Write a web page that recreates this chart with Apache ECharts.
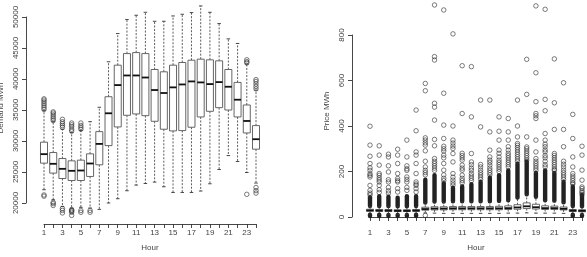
<!DOCTYPE html>
<html>
<head>
<meta charset="utf-8">
<script src="https://cdn.jsdelivr.net/npm/echarts@6/dist/echarts.min.js"></script>
<style>
  html, body { margin: 0; padding: 0; background: #fff; }
  #main { width: 587px; height: 257px; }
</style>
</head>
<body>
<div id="main"></div>
<script>
// hours on the x axis, only odd ones get a label (like R does)
var hours = [1, 2, 3, 4, 5, 6, 7, 8, 9, 10, 11, 12, 13, 14, 15, 16, 17, 18, 19, 20, 21, 22, 23, 24];
var hourLabels = ['1', '3', '5', '7', '9', '11', '13', '15', '17', '19', '21', '23'];
var demandTicks = [20000, 25000, 30000, 35000, 40000, 45000, 50000];
var priceTicks = [0, 200, 400, 600, 800];

// demand boxplot stats per hour
var demandLow = [22140, 20530, 19450, 19190, 19300, 19190, 18970, 20000, 20690, 21980, 22890, 23150, 23370, 22620, 21700, 21700, 21700, 21930, 23100, 25400, 27650, 26690, 24920, 23220];
var demandQ1 = [26430, 24820, 23950, 23630, 23630, 24280, 26160, 29260, 32270, 34150, 34360, 34090, 33180, 31900, 31630, 31680, 32220, 33880, 34790, 35380, 35000, 33880, 31300, 28680];
var demandMed = [27880, 26320, 25510, 25190, 25240, 26370, 29530, 34470, 39020, 40570, 40570, 40240, 38220, 37740, 38650, 39120, 39610, 39450, 39180, 39500, 38750, 36660, 33230, 30290];
var demandQ3 = [29810, 28140, 27170, 26800, 26910, 27930, 31510, 37140, 42230, 44100, 44260, 44100, 41530, 41160, 42230, 42660, 43030, 43200, 43090, 42930, 41530, 39450, 35810, 32480];
var demandHigh = [34900, 33120, 31900, 31350, 31700, 33120, 35440, 42780, 47330, 49590, 50280, 50760, 49310, 49310, 50170, 50440, 50710, 51780, 50760, 48940, 46470, 45730, 42400, 38220];
var demandOutliers = [
  [35100, 35400, 35700, 36000, 36300, 36600, 36800, 21100, 21300],
  [33300, 33600, 33900, 34200, 34500, 34700, 20100, 19900, 19600],
  [32200, 32500, 32800, 33100, 33500, 19100, 18800, 18400],
  [31600, 31900, 32300, 32600, 32900, 18900, 18800, 18700, 18500, 18000],
  [31900, 32200, 32500, 32900, 18800, 18500],
  [18800, 18500],
  [], [], [], [], [], [], [], [], [], [], [], [], [], [], [], [],
  [42600, 42800, 43100, 21400],
  [38400, 38800, 39200, 39600, 39900, 22500, 22000, 21600]
];

// price boxplot stats per hour
var priceLow = [12, 12, 11, 11, 11, 12, 18, 17, 16, 16, 16, 16, 16, 16, 16, 17, 17, 18, 17, 17, 17, 16, 12, 11];
var priceQ1 = [25, 25, 24, 24, 24, 25, 30, 31, 31, 32, 32, 32, 32, 32, 32, 33, 34, 37, 35, 33, 33, 31, 24, 23];
var priceMed = [29, 28, 28, 27, 27, 28, 35, 37, 37, 38, 38, 38, 38, 38, 38, 39, 42, 47, 43, 39, 39, 36, 28, 27];
var priceQ3 = [34, 33, 33, 32, 32, 33, 43, 45, 45, 46, 46, 46, 46, 46, 47, 49, 54, 62, 56, 49, 48, 44, 33, 32];
var priceHigh = [47, 46, 46, 45, 45, 46, 62, 66, 66, 67, 67, 67, 67, 67, 69, 72, 84, 98, 87, 72, 70, 63, 46, 45];
// solid runs of overlapping outlier circles: [hour, from, to]
var priceDense = [
  [1, 48, 88], [2, 47, 92], [3, 47, 90], [4, 46, 86], [5, 46, 92], [6, 47, 92],
  [7, 63, 165], [8, 67, 185], [9, 67, 150], [10, 68, 130], [11, 68, 135], [12, 68, 145],
  [13, 68, 155], [14, 68, 175], [15, 70, 185], [16, 73, 205], [17, 85, 235], [18, 99, 245],
  [19, 88, 195], [20, 73, 205], [21, 71, 195], [22, 64, 155], [23, 47, 135], [24, 46, 98],
  [1, 3, 11], [2, 3, 11], [3, 3, 10], [4, 3, 10], [5, 3, 10], [6, 3, 11], [23, 4, 11], [24, 4, 10]
];
var priceOutliers = [
  [399, 316, 267, 235, 216, 205, 190, 183, 176, 139, 117, 105, 97],
  [313, 272, 228, 191, 183, 172, 163, 154, 139, 120, 108],
  [276, 264, 225, 198, 164, 154, 130, 115, 105],
  [298, 272, 235, 191, 169, 160, 154, 125, 110],
  [338, 264, 225, 212, 205, 176, 165, 154, 130, 117],
  [470, 379, 286, 272, 235, 191, 154, 145, 139, 125, 110],
  [587, 555, 348, 338, 326, 316, 291, 245, 220, 205, 195, 185, 7],
  [932, 705, 690, 500, 483, 426, 341, 313, 257, 245, 235, 225, 215, 205],
  [910, 544, 404, 345, 311, 300, 290, 272, 260, 235, 206, 185, 170, 160],
  [805, 400, 338, 325, 312, 301, 279, 242, 191, 175, 162, 150, 140],
  [665, 455, 280, 270, 260, 250, 228, 215, 206, 184, 170, 160, 150],
  [661, 440, 279, 242, 230, 215, 205, 191, 180, 170, 160],
  [514, 396, 231, 220, 206, 195, 185, 175, 165],
  [514, 374, 294, 264, 250, 240, 228, 215, 205, 195, 185],
  [440, 377, 338, 294, 280, 264, 250, 240, 230, 220, 210, 200],
  [433, 374, 338, 309, 294, 280, 270, 260, 250, 240, 230, 220],
  [514, 400, 352, 323, 315, 305, 295, 285, 275, 265, 255, 245],
  [693, 539, 352, 308, 300, 290, 280, 270, 260, 250],
  [928, 634, 507, 455, 445, 433, 338, 286, 257, 245, 235, 225, 215, 205],
  [913, 517, 467, 367, 338, 320, 309, 295, 286, 270, 260, 245, 230, 220],
  [695, 502, 385, 279, 270, 260, 250, 240, 230, 220, 210, 205],
  [590, 385, 309, 245, 232, 220, 206, 195, 185, 175, 165],
  [451, 345, 264, 220, 191, 180, 170, 160, 150, 145],
  [311, 272, 206, 162, 132, 125, 115, 108, 100]
];

var textColor = '#444';
var lineColor = '#333';

function boxRows(lo, q1, med, q3, hi) {
  return hours.map(function (h, i) {
    return [h, lo[i], q1[i], med[i], q3[i], hi[i]];
  });
}

function outlierRows(list) {
  var out = [];
  list.forEach(function (vals, i) {
    vals.forEach(function (v) { out.push([hours[i], v]); });
  });
  return out;
}

// R style box: dashed whiskers, short staples, thick median
function renderBox(params, api) {
  var x = api.value(0);
  var half = api.size([1, 0])[0] * 0.38;
  var pLo = api.coord([x, api.value(1)]);
  var pQ1 = api.coord([x, api.value(2)]);
  var pMed = api.coord([x, api.value(3)]);
  var pQ3 = api.coord([x, api.value(4)]);
  var pHi = api.coord([x, api.value(5)]);
  var cx = pMed[0];
  var dash = { stroke: lineColor, lineWidth: 0.8, lineDash: [2, 1.5] };
  var solid = { stroke: lineColor, lineWidth: 0.9 };
  return {
    type: 'group',
    children: [
      { type: 'line', shape: { x1: cx, y1: pQ3[1], x2: cx, y2: pHi[1] }, style: dash },
      { type: 'line', shape: { x1: cx, y1: pQ1[1], x2: cx, y2: pLo[1] }, style: dash },
      { type: 'line', shape: { x1: cx - half / 2, y1: pHi[1], x2: cx + half / 2, y2: pHi[1] }, style: solid },
      { type: 'line', shape: { x1: cx - half / 2, y1: pLo[1], x2: cx + half / 2, y2: pLo[1] }, style: solid },
      { type: 'rect', shape: { x: cx - half, y: pQ3[1], width: half * 2, height: pQ1[1] - pQ3[1] },
        style: { fill: '#fff', stroke: '#555', lineWidth: 0.9 } },
      { type: 'line', shape: { x1: cx - half, y1: pMed[1], x2: cx + half, y2: pMed[1] },
        style: { stroke: '#111', lineWidth: 1.8 } }
    ]
  };
}

function renderDense(params, api) {
  var x = api.value(0);
  var pA = api.coord([x, api.value(1)]);
  var pB = api.coord([x, api.value(2)]);
  return {
    type: 'rect',
    shape: { x: pA[0] - 2.2, y: pB[1] - 2, width: 4.4, height: pA[1] - pB[1] + 4, r: 2.2 },
    style: { fill: '#222' }
  };
}

function xAxisFor(gridIndex, offset) {
  return {
    gridIndex: gridIndex, type: 'value', min: 1, max: 24, interval: 1, offset: offset,
    name: 'Hour', nameLocation: 'middle', nameGap: 20,
    nameTextStyle: { color: textColor, fontSize: 8, fontFamily: 'Liberation Sans' },
    axisLine: { lineStyle: { color: lineColor, width: 0.9 } },
    axisTick: { inside: false, length: 4, lineStyle: { color: lineColor, width: 0.9 } },
    axisLabel: {
      margin: 5, color: textColor, fontSize: 8, fontFamily: 'Liberation Sans',
      formatter: function (v) { return hourLabels.indexOf(String(v)) >= 0 ? String(v) : ''; }
    },
    splitLine: { show: false }
  };
}

function yAxisFor(gridIndex, ticks) {
  return {
    gridIndex: gridIndex, type: 'value', min: ticks[0], max: ticks[ticks.length - 1],
    interval: ticks[1] - ticks[0], offset: 18,
    axisLine: { show: true, lineStyle: { color: lineColor, width: 0.9 } },
    axisTick: { show: true, inside: false, length: 4, lineStyle: { color: lineColor, width: 0.9 } },
    axisLabel: {
      rotate: 90, margin: 6, color: textColor, fontSize: 8, fontFamily: 'Liberation Sans',
      formatter: function (v) { return String(v); }
    },
    splitLine: { show: false }
  };
}

var circleStyle = { color: 'transparent', borderColor: '#333', borderWidth: 0.8 };

var chart = echarts.init(document.getElementById('main'), null, { renderer: 'canvas' });
chart.setOption({
  animation: false,
  backgroundColor: '#fff',
  grid: [
    { left: 44, width: 212, top: 17, height: 186 },
    { left: 370, width: 212, top: 35, height: 182 }
  ],
  xAxis: [xAxisFor(0, 21), xAxisFor(1, 7)],
  yAxis: [yAxisFor(0, demandTicks), yAxisFor(1, priceTicks)],
  graphic: [
    { type: 'text', x: 1, y: 108, rotation: Math.PI / 2,
      style: { text: 'Demand MWh', fill: textColor, font: '8px "Liberation Sans"', align: 'center', verticalAlign: 'middle' } },
    { type: 'text', x: 327, y: 111, rotation: Math.PI / 2,
      style: { text: 'Price MWh', fill: textColor, font: '8px "Liberation Sans"', align: 'center', verticalAlign: 'middle' } }
  ],
  series: [
    {
      type: 'custom', xAxisIndex: 0, yAxisIndex: 0, clip: false,
      renderItem: renderBox, data: boxRows(demandLow, demandQ1, demandMed, demandQ3, demandHigh)
    },
    {
      type: 'scatter', xAxisIndex: 0, yAxisIndex: 0, clip: false,
      symbol: 'circle', symbolSize: 4.5, itemStyle: circleStyle,
      data: outlierRows(demandOutliers)
    },
    {
      type: 'custom', xAxisIndex: 1, yAxisIndex: 1, clip: false,
      renderItem: renderDense, data: priceDense
    },
    {
      type: 'scatter', xAxisIndex: 1, yAxisIndex: 1, clip: false,
      symbol: 'circle', symbolSize: 4.5, itemStyle: circleStyle,
      data: outlierRows(priceOutliers)
    },
    {
      type: 'custom', xAxisIndex: 1, yAxisIndex: 1, clip: false,
      renderItem: renderBox, data: boxRows(priceLow, priceQ1, priceMed, priceQ3, priceHigh)
    }
  ]
});
</script>
</body>
</html>
